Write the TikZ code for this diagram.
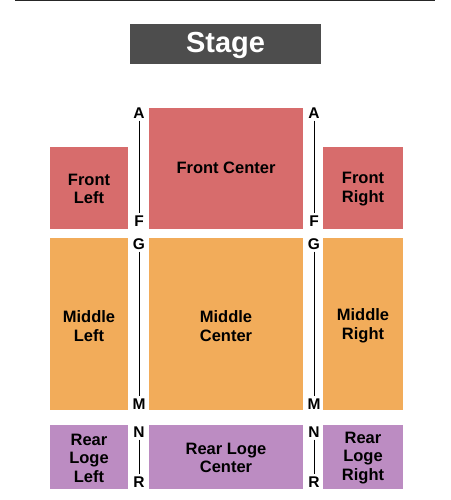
\documentclass[tikz,border=0pt]{standalone}
\usepackage{fontspec}
\setmainfont{Liberation Sans}
\begin{document}
\begin{tikzpicture}[x=1pt,y=-1pt,
  sec/.style={inner sep=0pt, align=center, font=\bfseries\fontsize{16.5}{18.5}\selectfont, text=black},
  row/.style={font=\bfseries\fontsize{15.5}{15.5}\selectfont, inner sep=0pt},
  rowline/.style={draw=black, line width=0.8pt}]
\definecolor{redsec}{RGB}{215,108,108}
\definecolor{orangesec}{RGB}{242,172,90}
\definecolor{purplesec}{RGB}{188,140,194}
\definecolor{stagegray}{RGB}{77,77,77}
\useasboundingbox (0,0) rectangle (450,500);
\fill[white] (0,0) rectangle (450,500);
\draw[line width=1.5pt, draw=black!85] (15,0.5) -- (435,0.5);
% stage
\fill[stagegray] (130,24) rectangle (321,64);
\node[font=\bfseries\fontsize{29}{29}\selectfont, text=white] (stage) at (225.5,45) {Stage};
% front
\fill[redsec] (149,108) rectangle (303,229);
\node[sec] (fc) at (226,168) {Front Center};
\fill[redsec] (50,147) rectangle (128,229);
\node[sec] (fl) at (89,189) {Front\\Left};
\fill[redsec] (323,147) rectangle (403,229);
\node[sec] (fr) at (363,189) {Front\\Right};
% middle
\fill[orangesec] (149,238) rectangle (303,410);
\node[sec] (mc) at (226,326) {Middle\\Center};
\fill[orangesec] (50,238) rectangle (128,410);
\node[sec] (ml) at (89,326) {Middle\\Left};
\fill[orangesec] (323,238) rectangle (403,410);
\node[sec] (mr) at (363,326) {Middle\\Right};
% rear
\fill[purplesec] (149,425) rectangle (303,489);
\node[sec] (rc) at (226,458) {Rear Loge\\Center};
\fill[purplesec] (50,425) rectangle (128,489);
\node[sec] (rl) at (89,458) {Rear\\Loge\\Left};
\fill[purplesec] (323,425) rectangle (403,489);
\node[sec] (rr) at (363,458) {Rear\\Loge\\Right};
% row letters left
\node[row] (lA) at (139,113) {A};
\node[row] (lF) at (139,221) {F};
\node[row] (lG) at (139,244) {G};
\node[row] (lM) at (139,404) {M};
\node[row] (lN) at (139,432) {N};
\node[row] (lR) at (139,482) {R};
\draw[rowline] ([yshift=-2pt]lA.south) -- ([yshift=2pt]lF.north);
\draw[rowline] ([yshift=-2pt]lG.south) -- ([yshift=2pt]lM.north);
\draw[rowline] ([yshift=-2pt]lN.south) -- ([yshift=2pt]lR.north);
% row letters right
\node[row] (rA) at (314,113) {A};
\node[row] (rF) at (314,221) {F};
\node[row] (rG) at (314,244) {G};
\node[row] (rM) at (314,404) {M};
\node[row] (rN) at (314,432) {N};
\node[row] (rR) at (314,482) {R};
\draw[rowline] ([yshift=-2pt]rA.south) -- ([yshift=2pt]rF.north);
\draw[rowline] ([yshift=-2pt]rG.south) -- ([yshift=2pt]rM.north);
\draw[rowline] ([yshift=-2pt]rN.south) -- ([yshift=2pt]rR.north);
\end{tikzpicture}
\end{document}
